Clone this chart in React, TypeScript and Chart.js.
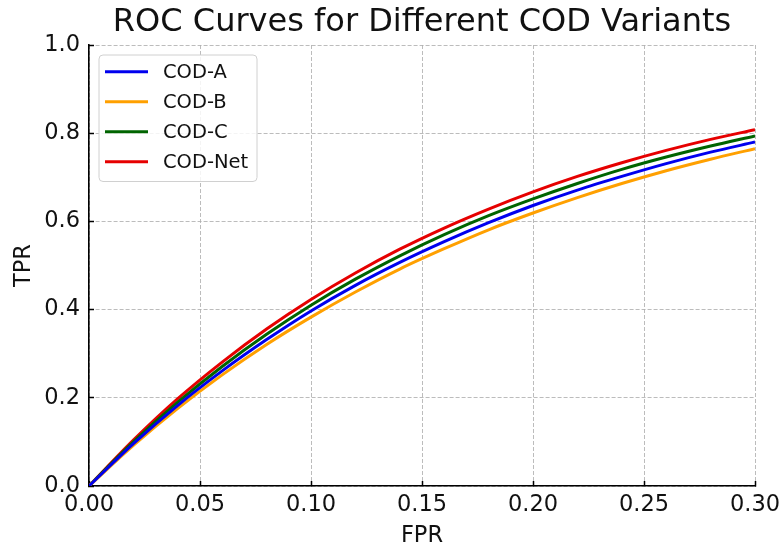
import React, { useEffect, useRef } from "react";
import { Chart, registerables } from "chart.js";

Chart.register(...registerables);

const FONT = '"DejaVu Sans", sans-serif';

const fpr = [0, 0.02, 0.04, 0.06, 0.08, 0.1, 0.12, 0.14, 0.16, 0.18, 0.2, 0.22, 0.24, 0.26, 0.28, 0.3];
const codA = [0, 0.096, 0.183, 0.261, 0.332, 0.397, 0.455, 0.507, 0.554, 0.597, 0.636, 0.671, 0.702, 0.731, 0.757, 0.780];
const codB = [0, 0.092, 0.176, 0.252, 0.321, 0.383, 0.440, 0.492, 0.538, 0.581, 0.619, 0.654, 0.686, 0.715, 0.741, 0.765];
const codC = [0, 0.100, 0.190, 0.271, 0.344, 0.410, 0.469, 0.522, 0.570, 0.613, 0.651, 0.686, 0.718, 0.746, 0.771, 0.794];
const codNet = [0, 0.104, 0.198, 0.281, 0.356, 0.423, 0.483, 0.537, 0.585, 0.628, 0.667, 0.702, 0.733, 0.761, 0.786, 0.808];

const seriesNames = ["COD-A", "COD-B", "COD-C", "COD-Net"];
const seriesValues = [codA, codB, codC, codNet];
const seriesColors = ["#0000ee", "#ffa000", "#006400", "#e60000"];

const xTicks = [0, 0.05, 0.1, 0.15, 0.2, 0.25, 0.3];
const yTicks = [0, 0.2, 0.4, 0.6, 0.8, 1.0];

const insideLegend = {
  id: "insideLegend",
  afterDatasetsDraw(chart: any) {
    const ctx = chart.ctx as CanvasRenderingContext2D;
    const { left, top } = chart.chartArea;
    const x0 = left + 10;
    const y0 = top + 10;
    const w = 158;
    const h = 126.5;
    const r = 4;
    ctx.save();
    ctx.beginPath();
    ctx.moveTo(x0 + r, y0);
    ctx.lineTo(x0 + w - r, y0);
    ctx.quadraticCurveTo(x0 + w, y0, x0 + w, y0 + r);
    ctx.lineTo(x0 + w, y0 + h - r);
    ctx.quadraticCurveTo(x0 + w, y0 + h, x0 + w - r, y0 + h);
    ctx.lineTo(x0 + r, y0 + h);
    ctx.quadraticCurveTo(x0, y0 + h, x0, y0 + h - r);
    ctx.lineTo(x0, y0 + r);
    ctx.quadraticCurveTo(x0, y0, x0 + r, y0);
    ctx.closePath();
    ctx.fillStyle = "rgba(255,255,255,0.85)";
    ctx.fill();
    ctx.strokeStyle = "#d0d0d0";
    ctx.lineWidth = 1;
    ctx.stroke();
    chart.data.datasets.forEach((ds: any, i: number) => {
      const cy = y0 + 16.7 + i * 30;
      ctx.beginPath();
      ctx.strokeStyle = ds.borderColor;
      ctx.lineWidth = 3;
      ctx.moveTo(x0 + 6, cy);
      ctx.lineTo(x0 + 49, cy);
      ctx.stroke();
      ctx.fillStyle = "#111";
      ctx.font = `19.5px ${FONT}`;
      ctx.textBaseline = "middle";
      ctx.textAlign = "left";
      ctx.fillText(ds.label, x0 + 64, cy + 1);
    });
    ctx.restore();
  },
};

export default function App() {
  const ref = useRef<HTMLCanvasElement | null>(null);

  useEffect(() => {
    if (!ref.current) return;
    const chart = new Chart(ref.current, {
      type: "line",
      data: {
        datasets: seriesNames.map((name, i) => ({
          label: name,
          data: fpr.map((x, j) => ({ x, y: seriesValues[i][j] })),
          borderColor: seriesColors[i],
          backgroundColor: seriesColors[i],
          borderWidth: 3,
          pointRadius: 0,
          cubicInterpolationMode: "monotone" as const,
          fill: false,
        })),
      },
      options: {
        responsive: false,
        animation: false,
        layout: { padding: { left: 0, right: 28, top: 0, bottom: 0 } },
        plugins: {
          legend: { display: false },
          tooltip: { enabled: false },
          title: {
            display: true,
            text: "ROC Curves for Different COD Variants",
            fullSize: false,
            color: "#111",
            font: { family: FONT, size: 32, weight: "normal" as const },
            padding: { top: 3.8, bottom: 2.8 },
          },
        },
        scales: {
          x: {
            type: "linear",
            min: 0,
            max: 0.3,
            afterFit: (s: any) => {
              s.height = 61;
              s.paddingRight = 0;
              s.paddingLeft = 0;
            },
            afterBuildTicks: (s: any) => {
              s.ticks = xTicks.map((v) => ({ value: v }));
            },
            ticks: {
              color: "#111",
              font: { family: FONT, size: 22.5 },
              padding: 11,
              maxRotation: 0,
              callback: (v: any) => Number(v).toFixed(2),
            },
            grid: {
              color: "rgba(176,176,176,0.85)",
              lineWidth: 1,
              tickLength: -5,
              tickColor: "#000",
              tickWidth: 1.5,
              tickBorderDash: [],
            },
            border: { display: true, color: "#000", width: 1.6, dash: [4, 2] },
            title: {
              display: true,
              text: "FPR",
              color: "#111",
              font: { family: FONT, size: 22.5, lineHeight: 1.0 },
              padding: { top: 0, bottom: 0 },
            },
          },
          y: {
            type: "linear",
            min: 0,
            max: 1,
            afterFit: (s: any) => {
              s.width = 89;
            },
            afterBuildTicks: (s: any) => {
              s.ticks = yTicks.map((v) => ({ value: v }));
            },
            ticks: {
              color: "#111",
              font: { family: FONT, size: 22.5 },
              padding: 14,
              callback: (v: any) => Number(v).toFixed(1),
            },
            grid: {
              color: "rgba(176,176,176,0.85)",
              lineWidth: 1,
              tickLength: -5,
              tickColor: "#000",
              tickWidth: 1.5,
              tickBorderDash: [],
            },
            border: { display: true, color: "#000", width: 1.6, dash: [4, 2] },
            title: {
              display: true,
              text: "TPR",
              color: "#111",
              font: { family: FONT, size: 22.5, lineHeight: 1.0 },
              padding: { top: 13, bottom: 0 },
            },
          },
        },
      },
      plugins: [insideLegend],
    } as any);
    return () => chart.destroy();
  }, []);

  return (
    <div style={{ position: "fixed", left: 0, top: 0, width: 783, height: 547, background: "#fff" }}>
      <canvas ref={ref} width={783} height={547} style={{ display: "block" }} />
    </div>
  );
}
